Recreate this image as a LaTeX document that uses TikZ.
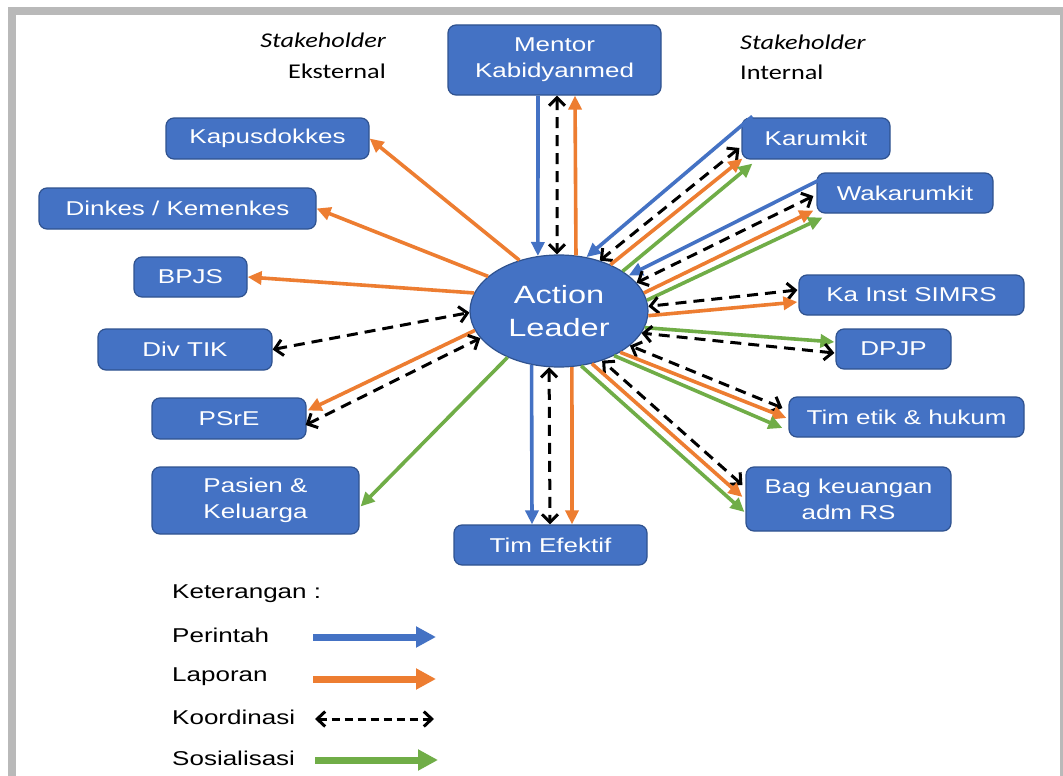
\documentclass[tikz,border=0pt]{standalone}
\usepackage{fontspec}
\setmainfont{Liberation Sans}[FakeStretch=1.3]
\newfontfamily\carl{Carlito}[FakeStretch=1.25]
\usetikzlibrary{arrows.meta,calc,shapes.geometric}
\definecolor{bblue}{HTML}{4472C4}
\definecolor{bedge}{HTML}{2F528F}
\definecolor{orng}{HTML}{ED7D31}
\definecolor{grn}{HTML}{70AD47}
\begin{document}
\begin{tikzpicture}[x=1pt,y=-1pt,
 box/.style={draw=bedge,fill=bblue,line width=1.2pt,rounded corners=8pt,text=white,inner sep=0pt,font=\fontsize{20}{26}\selectfont,align=center},
 perintah/.style={draw=bblue,line width=3.6pt,-{Triangle[length=14pt,width=13pt]}},
 laporan/.style={draw=orng,line width=3.6pt,-{Triangle[length=14pt,width=13pt]}},
 sosial/.style={draw=grn,line width=3.6pt,-{Triangle[length=14pt,width=13pt]}},
 koord/.style={draw=black,line width=3pt,dash pattern=on 11pt off 7pt,{Straight Barb[length=8pt,width=16pt]}-{Straight Barb[length=8pt,width=16pt]}},
 lbl/.style={anchor=west,font=\fontsize{20}{24}\selectfont,inner sep=0pt},
 sth/.style={inner sep=0pt,font=\carl\fontsize{21}{24}\selectfont}
]
\useasboundingbox (0,0) rectangle (1063,776);
\fill[white] (0,0) rectangle (1063,776);
\draw[gray!55,line width=8pt] (12,11) rectangle (1064,830);

% stakeholder labels
\node[sth,anchor=east] (sx1) at (386,40) {\itshape Stakeholder};
\node[sth,anchor=east] (sx2) at (386,71) {Eksternal};
\node[sth,anchor=west] (si1) at (740,42) {\itshape Stakeholder};
\node[sth,anchor=west] (si2) at (740,72) {Internal};

% central node
\node[ellipse,draw=bedge,fill=bblue,line width=1.2pt,minimum width=178pt,minimum height=112pt,inner sep=0pt,text=white,align=center,font=\fontsize{25}{33}\selectfont] (AL) at (559,311) {Action\\Leader};

% boxes
\node[box,minimum width=213pt,minimum height=70pt] (mentor) at (554.5,60) {Mentor\\Kabidyanmed};
\node[box,minimum width=203pt,minimum height=41pt] (kap) at (267.5,138.5) {Kapusdokkes};
\node[box,minimum width=277pt,minimum height=41pt] (din) at (177.5,208.5) {Dinkes / Kemenkes};
\node[box,minimum width=113pt,minimum height=40pt] (bpjs) at (190.5,277) {BPJS};
\node[box,minimum width=174pt,minimum height=41pt] (div) at (185,349.5) {Div TIK};
\node[box,minimum width=154pt,minimum height=41pt] (psre) at (229,418.5) {PSrE};
\node[box,minimum width=207pt,minimum height=67pt] (pas) at (255.5,500.5) {Pasien \&\\Keluarga};
\node[box,minimum width=193pt,minimum height=40pt] (tim) at (550.5,545) {Tim Efektif};
\node[box,minimum width=148pt,minimum height=41pt] (kar) at (816,138.5) {Karumkit};
\node[box,minimum width=176pt,minimum height=40pt] (wak) at (905,193) {Wakarumkit};
\node[box,minimum width=225pt,minimum height=40pt] (sim) at (911.5,295) {Ka Inst SIMRS};
\node[box,minimum width=115pt,minimum height=40pt] (dpjp) at (893.5,349) {DPJP};
\node[box,minimum width=235pt,minimum height=40pt] (etik) at (906.5,417) {Tim etik \& hukum};
\node[box,minimum width=205pt,minimum height=64pt] (bag) at (848.5,499) {Bag keuangan\\adm RS};

% mentor
\draw[perintah] ($(mentor.south)+(-16.5,0)$) -- (AL.111.1);
\draw[koord] ($(mentor.south)+(2.5,0)$) -- (AL.92);
\draw[laporan] (AL.73.8) -- ($(mentor.south)+(20.5,0)$);
% tim efektif
\draw[perintah] (AL.243.2) -- ($(tim.north)+(-18.5,0)$);
\draw[koord] (AL.260.8) -- ($(tim.north)+(-0.5,0)$);
\draw[laporan] (AL.283.2) -- ($(tim.north)+(21.5,0)$);
% external
\draw[laporan] (AL.128.4) -- (kap.east);
\draw[laporan] (AL.154.7) -- (din.east);
\draw[laporan] (AL.168.3) -- (bpjs.east);
\draw[koord] (div.east) -- (AL.181);
\draw[laporan] (AL.193.7) -- ($(psre.east)+(1,-8)$);
\draw[koord] ($(psre.east)+(-1,6.5)$) -- (AL.199.5);
\draw[sosial] (AL.222.7) -- ($(pas.east)+(1,6)$);
% karumkit
\draw[perintah] ($(kar.north west)+(11,-1)$) -- (AL.63.4);
\draw[koord] ($(kar.west)+(-2,9.5)$) -- (AL.51.8);
\draw[laporan] (AL.42.8) -- ($(kar.south west)+(1,-1)$);
\draw[sosial] (AL.32.6) -- ($(kar.south west)+(11,4)$);
% wakarumkit
\draw[perintah] ($(wak.west)+(3,-13)$) -- (AL.27.2);
\draw[koord] ($(wak.west)+(-3,3)$) -- (AL.20.9);
\draw[laporan] (AL.12.1) -- ($(wak.south west)+(-3,-3)$);
\draw[sosial] (AL.7) -- ($(wak.south west)+(6,4)$);
% simrs
\draw[koord] ($(sim.west)+(-1,-5)$) -- (AL.3.8);
\draw[laporan] (AL.357.4) -- ($(sim.west)+(-1,7)$);
% dpjp
\draw[sosial] (AL.349.7) -- ($(dpjp.west)+(-1,-7)$);
\draw[koord] ($(dpjp.west)+(-1,4)$) -- (AL.345.3);
% tim etik
\draw[koord] ($(etik.west)+(-6,-9)$) -- (AL.334);
\draw[laporan] (AL.326.7) -- ($(etik.west)+(-2,1)$);
\draw[sosial] (AL.321) -- ($(etik.west)+(-6,11)$);
% bag keuangan
\draw[koord] ($(bag.west)+(-3,-14)$) -- (AL.311.5);
\draw[laporan] (AL.302.2) -- ($(bag.west)+(-3,-2)$);
\draw[sosial] (AL.292.8) -- ($(bag.west)+(-1,13)$);

% legend
\node[lbl] (k0) at (172,594) {Keterangan :};
\node[lbl] (k1) at (172,635) {Perintah};
\node[lbl] (k2) at (172,677) {Laporan};
\node[lbl] (k3) at (172,717) {Koordinasi};
\node[lbl] (k4) at (172,758) {Sosialisasi};
\coordinate (p1a) at (313,637); \coordinate (p1b) at (436,637);
\coordinate (p2a) at (313,679); \coordinate (p2b) at (436,679);
\coordinate (p3a) at (315,719); \coordinate (p3b) at (434,719);
\coordinate (p4a) at (315,760); \coordinate (p4b) at (438,760);
\draw[draw=bblue,line width=7pt,-{Triangle[length=20pt,width=20pt]}] (p1a) -- (p1b);
\draw[draw=orng,line width=7pt,-{Triangle[length=20pt,width=20pt]}] (p2a) -- (p2b);
\draw[draw=black,line width=3pt,dash pattern=on 8pt off 5pt,{Straight Barb[length=8pt,width=15pt]}-{Straight Barb[length=8pt,width=15pt]}] (p3a) -- (p3b);
\draw[draw=grn,line width=7pt,-{Triangle[length=20pt,width=20pt]}] (p4a) -- (p4b);
\end{tikzpicture}
\end{document}
